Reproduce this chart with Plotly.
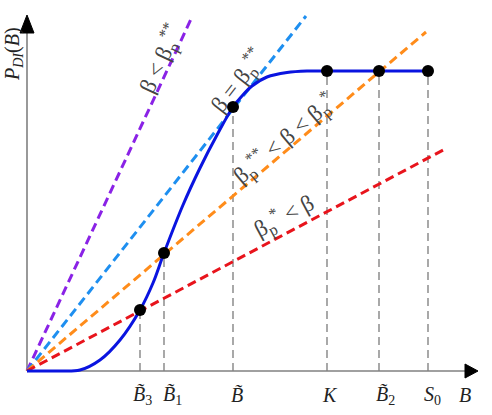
import plotly.graph_objects as go

# ---- data (arbitrary units; 1 unit = 100 px) ----
b_names = ["B̃3", "B̃1", "B̃", "K", "B̃2", "S0"]
b_x = [1.13, 1.37, 2.06, 3.00, 3.52, 4.01]
b_y = [0.61, 1.18, 2.64, 3.00, 3.00, 3.00]
marker_idx = [0, 1, 2, 3, 4, 5]

curve_x = [0.00, 0.30, 0.53, 0.73, 0.93, 1.13, 1.26, 1.37, 1.56, 1.73, 1.90,
           2.06, 2.15, 2.25, 2.40, 2.60, 2.80, 3.00, 3.52, 4.01]
curve_y = [0.00, 0.00, 0.01, 0.11, 0.31, 0.61, 0.88, 1.18, 1.66, 2.03, 2.36,
           2.64, 2.75, 2.85, 2.94, 2.985, 3.00, 3.00, 3.00, 3.00]

ray_end_x = [1.65, 2.79, 3.99, 4.20]
ray_end_y = [3.54, 3.55, 3.39, 2.23]
ray_colors = ["#8a22e6", "#1e8ff0", "#ff8c1a", "#e8141c"]
ray_labels = ["β < β<sub>p</sub><sup>**</sup>",
              "β = β<sub>p</sub><sup>**</sup>",
              "β<sub>p</sub><sup>**</sup> < β < β<sub>p</sub><sup>*</sup>",
              "β<sub>p</sub><sup>*</sup> < β"]
ray_label_x = [1.34, 2.11, 2.57, 2.57]
ray_label_y = [3.12, 2.90, 2.32, 1.55]
ray_label_angle = [-65, -52, -40, -28]

tick_labels = ["<i>B̃</i><sub>3</sub>", "<i>B̃</i><sub>1</sub>", "<i>B̃</i>",
               "<i>K</i>", "<i>B̃</i><sub>2</sub>", "<i>S</i><sub>0</sub>"]
tick_label_x = [1.15, 1.45, 2.10, 3.03, 3.58, 4.05]

x_axis_end = 4.38
x_arrow_tip = 4.51
y_axis_end = 3.38
y_arrow_tip = 3.56
arrow_half = 0.07

FONT = "Liberation Serif"
TXT = "#444444"

fig = go.Figure()

# vertical dashed guides
for bx, by in zip(b_x, b_y):
    fig.add_trace(go.Scatter(x=[bx, bx], y=[0, by], mode="lines",
                             line=dict(color="#707070", width=1.2, dash="8px,5px"),
                             hoverinfo="skip", showlegend=False))

# axes (drawn as traces)
fig.add_trace(go.Scatter(x=[0, x_axis_end], y=[0, 0], mode="lines",
                         line=dict(color="#808080", width=1.6), showlegend=False))
fig.add_trace(go.Scatter(x=[0, 0], y=[0, y_axis_end], mode="lines",
                         line=dict(color="#808080", width=1.6), showlegend=False))
fig.add_trace(go.Scatter(x=[x_axis_end, x_arrow_tip, x_axis_end, x_axis_end],
                         y=[arrow_half, 0, -arrow_half, arrow_half], mode="lines",
                         fill="toself", fillcolor="black", line=dict(color="black", width=1),
                         showlegend=False))
fig.add_trace(go.Scatter(x=[-arrow_half, 0, arrow_half, -arrow_half],
                         y=[y_axis_end, y_arrow_tip, y_axis_end, y_axis_end], mode="lines",
                         fill="toself", fillcolor="black", line=dict(color="black", width=1),
                         showlegend=False))

# rays from origin
for ex, ey, c in zip(ray_end_x, ray_end_y, ray_colors):
    fig.add_trace(go.Scatter(x=[0, ex], y=[0, ey], mode="lines",
                             line=dict(color=c, width=3, dash="9px,5px"),
                             showlegend=False))

# main curve
fig.add_trace(go.Scatter(x=curve_x, y=curve_y, mode="lines",
                         line=dict(color="#0a14e0", width=3, shape="spline", smoothing=1.0),
                         showlegend=False))

# markers
fig.add_trace(go.Scatter(x=[b_x[i] for i in marker_idx], y=[b_y[i] for i in marker_idx],
                         mode="markers", marker=dict(color="black", size=12),
                         showlegend=False))

annotations = []
for t, tx in zip(tick_labels, tick_label_x):
    annotations.append(dict(x=tx, y=-0.24, text=t, showarrow=False,
                            font=dict(family=FONT, size=20, color="#222"),
                            xanchor="center", yanchor="middle"))
annotations.append(dict(x=x_axis_end, y=-0.24, text="<i>B</i>", showarrow=False,
                        font=dict(family=FONT, size=20, color="#222"),
                        xanchor="center", yanchor="middle"))
annotations.append(dict(x=-0.14, y=3.17, text="<i>P</i><sub><i>DI</i></sub>(<i>B</i>)",
                        showarrow=False, textangle=-90,
                        font=dict(family=FONT, size=20, color="#222"),
                        xanchor="center", yanchor="middle"))
for t, lx, ly, ang in zip(ray_labels, ray_label_x, ray_label_y, ray_label_angle):
    annotations.append(dict(x=lx, y=ly, text=t, showarrow=False, textangle=ang,
                            font=dict(family=FONT, size=23, color=TXT),
                            xanchor="center", yanchor="middle"))

fig.update_layout(
    width=492, height=415, autosize=False,
    margin=dict(l=0, r=0, t=0, b=0),
    paper_bgcolor="white", plot_bgcolor="white",
    xaxis=dict(range=[-0.27, 4.65], visible=False, fixedrange=True),
    yaxis=dict(range=[-0.44, 3.71], visible=False, fixedrange=True),
    annotations=annotations,
    showlegend=False,
)

fig.write_html("out.html")
